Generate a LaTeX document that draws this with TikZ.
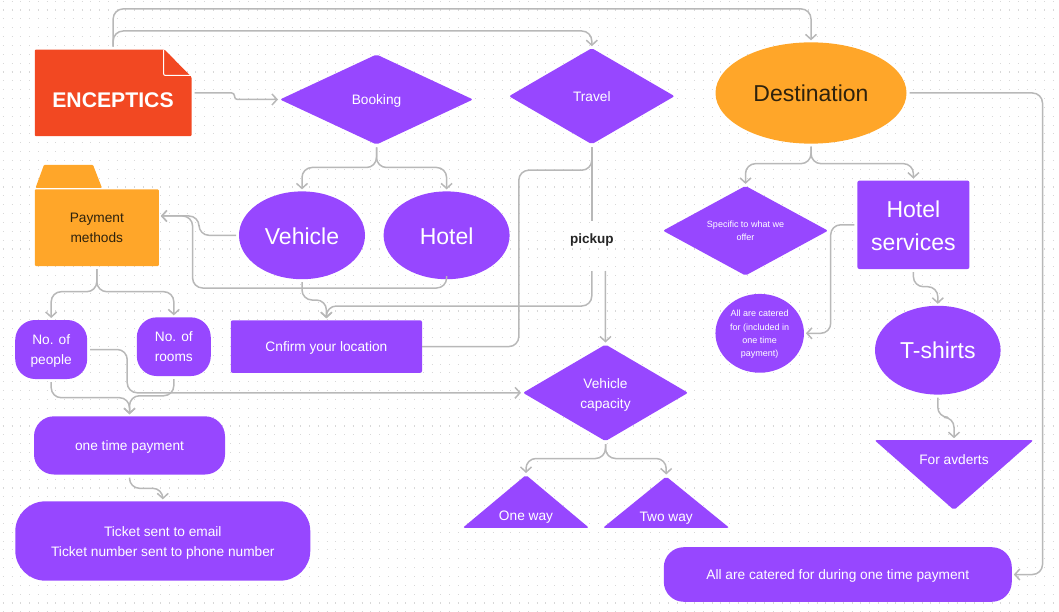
\documentclass[tikz,border=0pt]{standalone}
\usepackage{fontspec}
\setmainfont{Liberation Sans}
\usetikzlibrary{shapes.geometric,arrows.meta}

\definecolor{flowpurple}{HTML}{9747FF}
\definecolor{floworange}{HTML}{FFA629}
\definecolor{flowred}{HTML}{F24822}
\definecolor{flowgray}{HTML}{B8B8B8}
\definecolor{flowdot}{HTML}{D8D8D8}
\definecolor{flowink}{HTML}{2E220D}

\newcommand{\linestrut}{\rule[-.29em]{0pt}{1.34em}}

\tikzset{
	solid block/.style={fill=flowpurple,text=white,align=center,inner sep=0pt,outer sep=0pt},
	flowbox/.style={solid block,rectangle,rounded corners=2pt},
	flowpill/.style={solid block,rectangle,rounded corners=#1},
	flowellipse/.style={solid block,ellipse},
	flowdiamond/.style={solid block,diamond,rounded corners=2pt},
	flowline/.style={draw=flowgray,line width=1.5pt,rounded corners=10pt,shorten <=3pt},
	flowarrow/.style={flowline,-{Straight Barb[length=5pt,width=11pt]},shorten >=2pt},
	big text/.style={font=\fontsize{23}{33}\selectfont},
	mid text/.style={font=\fontsize{13.7}{20}\selectfont},
	tiny text/.style={font=\fontsize{9}{13.3}\selectfont},
}

\begin{document}
\begin{tikzpicture}[x=1pt,y=-1pt]
	\useasboundingbox (0,0) rectangle (1059,612);

	% Dotted canvas
	\foreach \j in {0,...,69} {
		\draw[flowdot,line width=1.1pt,dash pattern=on 1.1pt off 7.65pt] (2.85,1.2+8.85*\j) -- (1059,1.2+8.85*\j);
	}

	% Source document with folded corner
	\fill[flowred,rounded corners=1pt] (34.8,49.6) -- (164.5,49.6) -- (191.5,77) -- (191.5,136.2) -- (34.8,136.2) -- cycle;
	\draw[white,line width=1pt,rounded corners=2pt] (163.5,49.6) -- (163.5,75.5) -- (191.5,75.5);
	\node[minimum width=156.7,minimum height=86.6,inner sep=0pt,outer sep=0pt] (enceptics) at (113.15,92.9) {};
	\node[text=white,font=\fontsize{21.2}{26}\bfseries\selectfont] (encepticstext) at (113,100.6) {ENCEPTICS};

	% Payment folder
	\fill[floworange,rounded corners=1pt] (35.5,188) -- (44,164.8) -- (93,164.8) -- (102,188) -- cycle;
	\node[solid block,mid text,fill=floworange,text=flowink,rounded corners=1pt,minimum width=124,minimum height=76.6] (payment) at (96.8,227.7) {\linestrut Payment\\\linestrut methods};
	\coordinate (paymentin) at (158.8,216);

	% Upper row
	\node[flowdiamond,mid text,aspect=2.1,minimum width=193,minimum height=90] (booking) at (376.5,99.5) {\linestrut Booking};
	\node[flowdiamond,mid text,aspect=1.7,minimum width=165.5,minimum height=96] (travel) at (591.8,96.2) {\linestrut Travel};
	\node[solid block,ellipse,big text,fill=floworange,text=flowink,minimum width=191,minimum height=101.3] (destination) at (811,93) {\linestrut Destination};

	% Second row
	\node[flowellipse,big text,minimum width=126,minimum height=87.8] (vehicle) at (302,235.3) {\linestrut Vehicle};
	\node[flowellipse,big text,minimum width=126,minimum height=87.8] (hotel) at (446.6,235.3) {\linestrut Hotel};
	\node[fill=white,inner sep=1pt,outer ysep=7pt,font=\fontsize{13.5}{16}\bfseries\selectfont,text=black!85] (pickup) at (591.8,238) {\linestrut pickup};
	\coordinate (pickupleft) at (591.8,271);
	\coordinate (pickupright) at (605.3,271);
	\node[flowdiamond,tiny text,aspect=1.82,minimum width=165,minimum height=89.6] (specific) at (745.5,230.7) {\linestrut Specific to what we\\\linestrut offer};
	\node[flowbox,big text,minimum width=112,minimum height=88.4] (services) at (913.4,224.8) {\linestrut Hotel\\\linestrut services};

	% Third row
	\node[flowpill=20pt,mid text,minimum width=72,minimum height=59] (people) at (51.2,349.5) {\linestrut No. of\\\linestrut people};
	\node[flowpill=20pt,mid text,minimum width=74,minimum height=58.7] (rooms) at (173.8,346.7) {\linestrut No. of\\\linestrut rooms};
	\node[flowbox,mid text,minimum width=191.3,minimum height=52.6] (confirm) at (326.4,346.6) {\linestrut Cnfirm your location};
	\node[flowellipse,tiny text,minimum width=88.5,minimum height=78.8] (catered) at (759.7,333.3) {\linestrut All are catered\\for (included in\\one time\\\linestrut payment)};
	\node[flowellipse,big text,minimum width=125.6,minimum height=88.8] (tshirts) at (937.8,350.2) {\linestrut T-shirts};
	\node[flowdiamond,mid text,aspect=1.69,minimum width=165,minimum height=96.6] (capacity) at (605.5,392.8) {\linestrut Vehicle\\\linestrut capacity};

	% Triangles
	\fill[flowpurple,rounded corners=2pt] (462.8,527.8) -- (526,475) -- (589,527.8) -- cycle;
	\node[text=white,mid text,inner sep=0pt] (oneway) at (526,515.5) {\linestrut One way};
	\coordinate (onewaytop) at (526,475);
	\fill[flowpurple,rounded corners=2pt] (603,527.8) -- (666.2,476.5) -- (729.3,527.8) -- cycle;
	\node[text=white,mid text,inner sep=0pt] (twoway) at (666.2,516.5) {\linestrut Two way};
	\coordinate (twowaytop) at (666.2,476.5);
	\fill[flowpurple,rounded corners=2pt] (874.6,440.2) -- (1033.4,440.2) -- (954,510) -- cycle;
	\node[text=white,mid text,inner sep=0pt] (adverts) at (954,459.5) {\linestrut For avderts};
	\coordinate (advertstop) at (954,440.2);

	% Bottom blocks
	\node[flowpill=20pt,mid text,minimum width=191,minimum height=58.2] (onetime) at (129.5,445.4) {\linestrut one time payment};
	\node[flowpill=30pt,mid text,minimum width=295,minimum height=79.3] (ticket) at (162.8,541) {\linestrut Ticket sent to email\\\linestrut Ticket number sent to phone number};
	\node[flowpill=20pt,mid text,minimum width=348,minimum height=54.6] (allpaid) at (837.8,574.5) {\linestrut All are catered for during one time payment};

	% Connectors from the source
	\draw[flowarrow,rounded corners=3pt] (enceptics.east) -- ++(43,0) |- (booking.west);
	\draw[flowarrow] (enceptics.north) -- ++(0,-40.7) -| (destination.north);
	\draw[flowarrow] (enceptics.north) -- ++(0,-18.6) -| (travel.north);

	% Connectors around booking
	\draw[flowarrow] (booking.south) -- ++(0,23) -| (vehicle.north);
	\draw[flowarrow] (booking.south) -- ++(0,23) -| (hotel.north);
	\draw[flowarrow] (vehicle.west) -- ++(-40,0) |- (paymentin);
	\draw[flowarrow] (hotel.south) -- ++(0,8.8) -- ++(-254,0) |- (paymentin);
	\draw[flowarrow] (vehicle.south) -- ++(0,20.8) -| (confirm.north);

	% Connectors around travel
	\draw[flowline] (travel.south) -- ++(0,26) -- ++(-73,0) |- (confirm.east);
	\draw[flowline] (travel.south) -- (pickup.north);
	\draw[flowarrow,shorten <=0pt] (pickupleft) -- ++(0,35) -| (confirm.north);
	\draw[flowarrow,shorten <=0pt] (pickupright) -- (capacity.north);
	\draw[flowarrow] (capacity.south) -- ++(0,17.4) -| (onewaytop);
	\draw[flowarrow] (capacity.south) -- ++(0,17.4) -| (twowaytop);

	% Connectors around payment
	\draw[flowarrow] (payment.south) -- ++(0,25.7) -| (people.north);
	\draw[flowarrow] (payment.south) -- ++(0,25.7) -| (rooms.north);
	\draw[flowarrow] (people.east) -- ++(40,0) |- (capacity.west);
	\draw[flowarrow] (people.south) -- ++(0,18.7) -| (onetime.north);
	\draw[flowarrow] (rooms.south) -- ++(0,19.7) -| (onetime.north);
	\draw[flowarrow] (onetime.south) -- ++(0,13.8) -| (ticket.north);

	% Connectors around destination
	\draw[flowarrow] (destination.south) -- ++(0,20) -| (specific.north);
	\draw[flowarrow] (destination.south) -- ++(0,20) -| (services.north);
	\draw[flowarrow] (destination.east) -- ++(136,0) |- (allpaid.east);
	\draw[flowarrow] (services.west) -- ++(-26.7,0) |- (catered.east);
	\draw[flowarrow] (services.south) -- ++(0,17.7) -| (tshirts.north);
	\draw[flowarrow] (tshirts.south) -- ++(0,22.7) -| (advertstop);
\end{tikzpicture}
\end{document}
